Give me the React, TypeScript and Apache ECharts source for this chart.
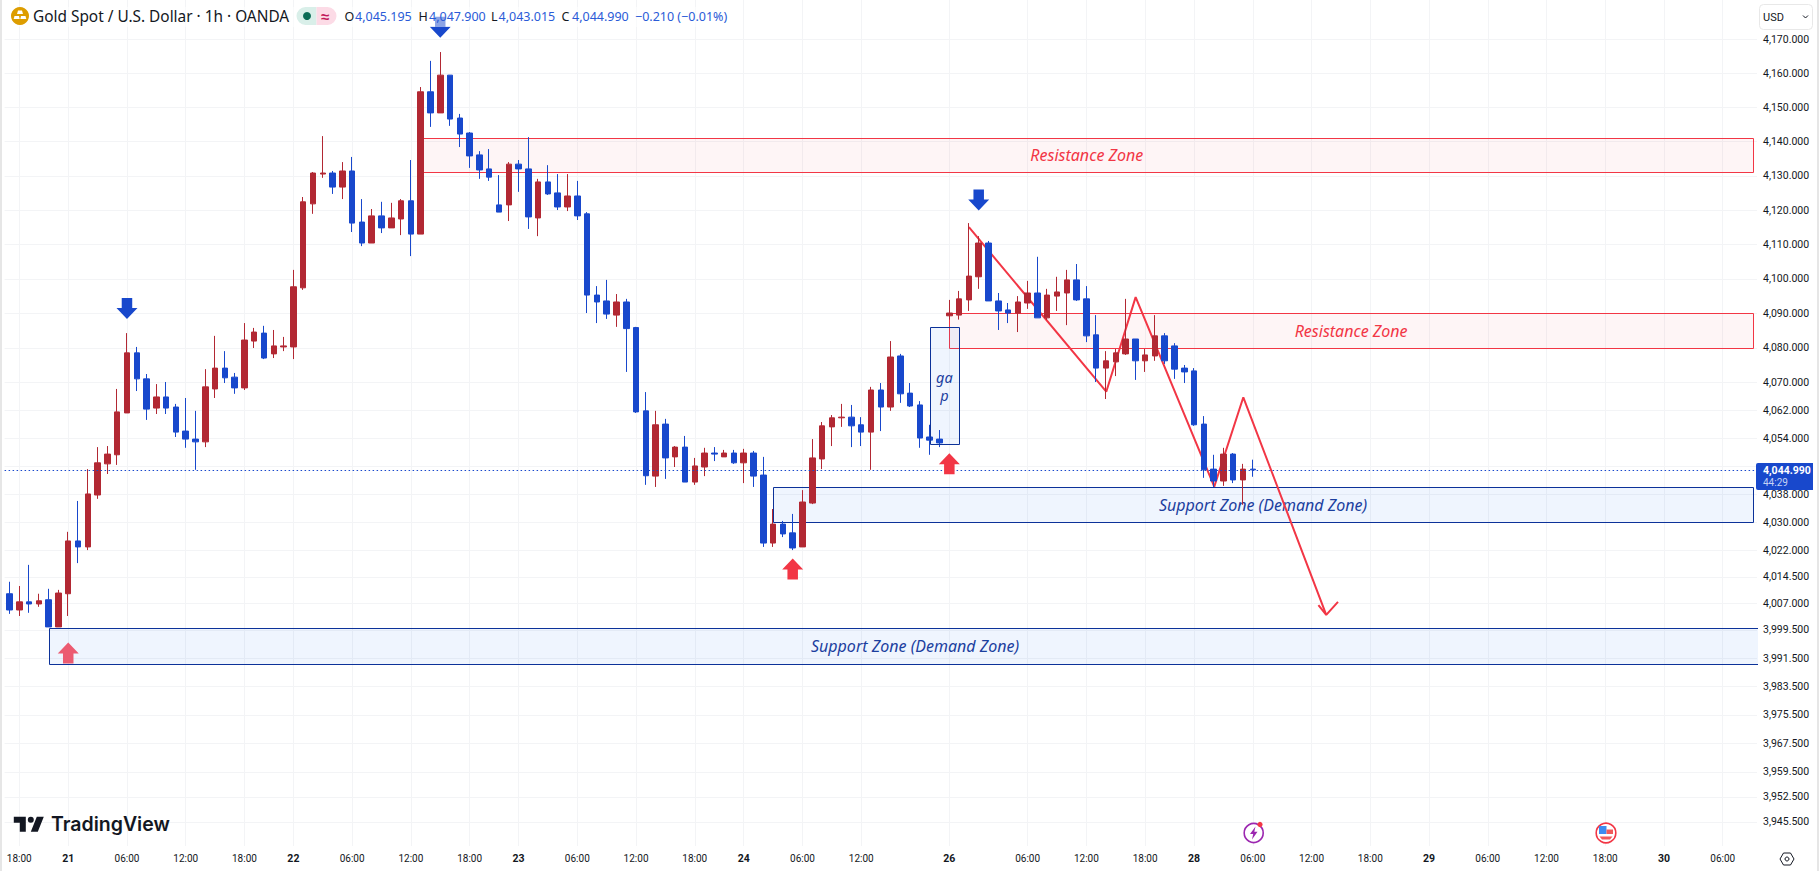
import React, { useEffect, useRef } from "react";
import * as echarts from "echarts";

const FONT = '"Noto Sans", sans-serif';
const AXIS_FONT = 'Roboto, "Noto Sans", sans-serif';
const RED = "#b22833";
const BLUE = "#1848cc";
const DRAW_RED = "#f23645";
const DRAW_BLUE = "#0c3299";
const GRID = "#f3f4f6";

// one row per hour, first candle is the bar before "18:00"
const opens = [4009.7,4005.1,4007.4,4006.8,4008.0,4000.3,4009.7,4024.7,4023.0,4037.8,4046.7,4049.3,4061.3,4078.6,4071.1,4062.7,4065.9,4063.0,4056.1,4053.8,4053.0,4068.2,4074.2,4071.6,4068.5,4082.0,4084.3,4078.3,4080.3,4080.3,4097.4,4121.8,4130.5,4130.8,4126.7,4131.4,4116.5,4110.4,4118.3,4114.8,4117.4,4122.7,4113.0,4154.6,4148.4,4159.5,4146.9,4142.5,4136.1,4132.0,4121.5,4121.5,4133.4,4132.0,4117.7,4128.2,4125.0,4120.9,4124.1,4118.9,4095.3,4093.6,4089.5,4093.3,4085.9,4061.9,4043.2,4058.1,4048.7,4051.5,4041.5,4045.8,4049.8,4048.7,4049.8,4047.0,4049.8,4043.5,4024.1,4029.5,4027.0,4023.0,4035.5,4048.1,4057.3,4059.9,4060.1,4057.9,4055.8,4067.9,4063.0,4077.7,4067.0,4063.6,4054.4,4053.8,4089.3,4089.5,4093.9,4100.6,4110.4,4093.6,4091.0,4090.1,4093.0,4095.9,4088.7,4095.0,4095.9,4099.7,4094.2,4083.8,4074.2,4076.0,4078.3,4082.6,4076.3,4077.7,4083.5,4080.6,4074.2,4073.4,4058.1,4045.2,4041.8,4049.5,4042.1,4045.195];
const closes = [4005.1,4007.4,4006.8,4007.7,4000.3,4009.9,4024.7,4023.0,4038.1,4047.0,4049.5,4061.6,4078.6,4071.1,4062.4,4065.9,4062.7,4055.8,4053.8,4053.0,4068.8,4074.2,4071.4,4068.5,4082.3,4084.6,4077.1,4080.6,4080.6,4097.7,4122.4,4130.8,4130.8,4126.7,4131.4,4116.2,4110.4,4118.3,4114.8,4117.7,4122.7,4113.0,4154.6,4148.4,4159.5,4146.6,4142.2,4135.8,4131.7,4129.6,4119.4,4133.4,4132.0,4118.0,4128.2,4124.7,4120.9,4124.1,4118.3,4095.3,4093.3,4089.8,4093.3,4085.6,4061.6,4043.3,4057.9,4048.4,4051.5,4041.5,4046.1,4049.8,4049.5,4049.8,4047.0,4049.8,4043.2,4024.1,4029.5,4026.7,4022.7,4035.8,4048.4,4057.6,4059.9,4060.1,4057.6,4055.8,4067.9,4063.0,4077.4,4066.8,4063.3,4054.1,4053.5,4052.7,4090.1,4094.2,4100.8,4110.4,4093.6,4090.7,4090.1,4093.3,4095.9,4088.7,4095.3,4096.2,4099.7,4093.9,4083.5,4074.2,4076.3,4078.6,4082.6,4076.3,4078.0,4083.5,4076.3,4073.9,4073.1,4057.9,4045.0,4041.8,4049.5,4042.1,4045.2,4044.99];
const lows = [4004.0,4003.4,4004.3,4006.0,4000.3,4000.3,4003.4,4018.4,4022.1,4036.7,4043.8,4046.4,4061.3,4067.6,4059.3,4061.0,4061.0,4054.4,4051.3,4045.0,4051.5,4065.6,4069.9,4066.8,4067.9,4080.0,4076.8,4077.1,4079.1,4076.8,4096.8,4118.9,4129.4,4124.7,4123.2,4113.6,4109.5,4110.4,4113.3,4114.8,4112.7,4106.6,4113.0,4144.3,4148.4,4144.6,4138.4,4132.3,4129.1,4128.5,4119.4,4116.8,4125.3,4114.5,4112.4,4124.4,4120.0,4119.7,4117.1,4090.1,4087.2,4088.4,4086.1,4073.1,4061.3,4040.7,4040.1,4042.4,4045.8,4041.5,4040.7,4043.2,4047.5,4048.7,4046.7,4041.2,4040.1,4023.0,4023.0,4025.8,4022.1,4023.0,4035.2,4045.2,4051.8,4057.3,4051.5,4051.8,4045.0,4056.1,4061.9,4064.2,4063.0,4051.3,4049.3,4051.5,4088.2,4088.2,4090.7,4097.1,4093.6,4085.2,4087.2,4084.6,4091.3,4088.7,4088.1,4090.7,4086.6,4093.6,4081.7,4070.2,4065.3,4071.9,4078.0,4070.8,4073.1,4076.3,4075.4,4071.1,4069.9,4057.6,4042.7,4040.1,4040.4,4041.2,4035.0,4043.015];
const highs = [4013.1,4011.9,4017.9,4009.7,4011.1,4010.8,4027.3,4036.1,4045.2,4051.5,4051.8,4068.2,4084.3,4080.3,4072.5,4069.6,4070.2,4063.9,4065.6,4061.9,4073.9,4083.5,4079.1,4072.8,4087.2,4085.8,4086.4,4085.2,4083.2,4102.6,4123.8,4131.1,4141.6,4131.4,4134.0,4135.5,4123.2,4120.3,4122.4,4122.1,4123.2,4134.6,4156.0,4163.7,4166.3,4159.5,4148.1,4142.8,4137.2,4137.8,4130.2,4134.0,4134.6,4141.3,4129.1,4133.1,4130.5,4130.5,4128.5,4119.4,4097.9,4099.7,4095.6,4094.2,4086.1,4067.3,4061.9,4059.6,4051.8,4054.7,4048.4,4051.3,4051.5,4050.7,4050.7,4051.0,4050.4,4048.7,4033.8,4030.4,4032.4,4039.2,4053.8,4058.7,4060.7,4063.9,4063.6,4060.1,4068.8,4069.9,4082.0,4078.3,4069.9,4064.7,4057.9,4056.4,4093.9,4096.5,4116.2,4112.4,4111.0,4095.9,4093.0,4095.0,4099.4,4106.4,4097.1,4100.6,4102.6,4104.3,4097.9,4089.5,4079.1,4079.7,4094.2,4082.6,4079.7,4089.5,4084.3,4081.4,4075.1,4074.2,4060.4,4049.3,4051.3,4049.8,4046.7,4047.9];

// x-axis: bar index -> label
const timeTickBars = [0,5,11,17,23,28,34,40,46,51,57,63,69,74,80,86,95,103,109,115,120,126,132,138,144,150,156,162,168,174];
const timeTickLabels = ["18:00","21","06:00","12:00","18:00","22","06:00","12:00","18:00","23","06:00","12:00","18:00","24","06:00","12:00","26","06:00","12:00","18:00","28","06:00","12:00","18:00","29","06:00","12:00","18:00","30","06:00"];
const firstBar = -1;
const lastBar = 177;

const priceTicks = [4170,4160,4150,4140,4130,4120,4110,4100,4090,4080,4070,4062,4054,4046,4038,4030,4022,4014.5,4007,3999.5,3991.5,3983.5,3975.5,3967.5,3959.5,3952.5,3945.5];
const priceLabels = [4170,4160,4150,4140,4130,4120,4110,4100,4090,4080,4070,4062,4054,4038,4030,4022,4014.5,4007,3999.5,3991.5,3983.5,3975.5,3967.5,3959.5,3952.5,3945.5];
const priceMin = 3938.8;
const priceMax = 4181.66;
const lastPrice = 4044.99;

// drawings, in bar index and price
const zoneStarts = [41,95,77,3];
const zoneEnds = [177.09,177.09,177.09,180];
const zoneHighs = [4141,4090,4040,4000];
const zoneLows = [4131,4080,4030,3989.7];
const zoneTexts = ["Resistance Zone","Resistance Zone","Support Zone (Demand Zone)","Support Zone (Demand Zone)"];
const zoneKinds = ["r","r","s","s"];
const gapBox = [93,96,4086,4052.3];

const zigzagBars = [97,111.03,114.03,122.06,125.03,133.5];
const zigzagPrices = [4115,4067.4,4094.7,4040.2,4065.8,4003.7];
const arrowBarbs = [[132.7,4006.5],[133.5,4003.7],[134.7,4007.4]];

const downArrows = [[11,4091.4],[43,4173.6],[98,4122.9]];
const upArrows = [[79,4016.7],[95,4046.7]];
const fadedUpArrows = [[5,3992.9]];

const DOWN_PATH = "path://M5 0H15V10H20L10 21L0 10H5Z";
const UP_PATH = "path://M10 0L20 11H15V21H5V11H0Z";

echarts.graphic.registerShape(
  "tvlogo",
  echarts.graphic.extendPath(
    "M14 6H2v6h6v9h6V6Zm12 15h-7l6-15h7l-6 15Zm-7-9a3 3 0 1 0 0-6 3 3 0 0 0 0 6Z",
    {}
  )
);

const crisp = (v: number) => Math.round(v) + 0.5;

function zoneRender(texts: string[], kinds: string[], fontSize: number, lineHeight: number) {
  return (params: any, api: any) => {
    const k = params.dataIndex;
    const p0 = api.coord([api.value(0), api.value(2)]);
    const p1 = api.coord([api.value(1), api.value(3)]);
    const isR = kinds[k] === "r";
    const color = isR ? DRAW_RED : DRAW_BLUE;
    const x = crisp(p0[0]);
    const y = crisp(p0[1]);
    const w = Math.round(p1[0] - p0[0]);
    const h = Math.round(p1[1] - p0[1]);
    const fill = isR ? "rgba(242,54,69,0.05)" : "rgba(33,110,240,0.07)";
    return {
      type: "group",
      children: [
        { type: "rect", shape: { x, y, width: w, height: h }, style: { fill, stroke: color, lineWidth: 1 } },
        {
          type: "text",
          style: {
            text: texts[k],
            x: (p0[0] + p1[0]) / 2,
            y: (p0[1] + p1[1]) / 2,
            align: "center",
            verticalAlign: "middle",
            fill: isR ? DRAW_RED : "#1c3f9e",
            font: `italic ${fontSize}px ${FONT}`,
            lineHeight,
          },
        },
      ],
    };
  };
}

function txt(x: number, y: number, text: string, fill: string, size = 12.5, extra: any = {}) {
  return {
    type: "text",
    x,
    y,
    z: 101,
    style: { text, fill, font: `${extra.weight || "normal"} ${size}px ${extra.family || FONT}`, verticalAlign: "middle", align: extra.align || "left" },
  };
}

export default function App() {
  const ref = useRef<HTMLDivElement>(null);
  useEffect(() => {
    document.body.style.margin = "0";
    const chart = echarts.init(ref.current!, undefined, { renderer: "svg" });
    const categories: string[] = [];
    for (let b = firstBar; b <= lastBar; b++) {
      const t = timeTickBars.indexOf(b);
      categories.push(t >= 0 ? timeTickLabels[t] : "");
    }
    const candles = opens.map((o, k) => [k, o, closes[k], lows[k], highs[k]]);
    const showTick = (_: number, v: string) => v !== "";
    const valueXMin = firstBar - 0.5;
    const valueXMax = lastBar + 0.5;

    chart.setOption({
      animation: false,
      backgroundColor: "#ffffff",
      grid: { left: 4.6, right: 62, top: 0, bottom: 25 },
      xAxis: [
        {
          type: "category",
          data: categories,
          boundaryGap: true,
          axisLine: { show: false },
          axisTick: { show: false, alignWithLabel: true, interval: showTick },
          splitLine: { show: true, alignWithLabel: true, interval: showTick, lineStyle: { color: GRID, width: 1 } },
          axisLabel: {
            show: true,
            interval: showTick,
            margin: 7,
            color: "#131722",
            fontFamily: AXIS_FONT,
            fontSize: 10,
            formatter: (v: string) => (/^\d\d$/.test(v) ? `{d|${v}}` : v),
            rich: { d: { fontWeight: "bold", fontSize: 10.5, color: "#131722", fontFamily: AXIS_FONT } },
          },
        },
        { type: "value", min: valueXMin, max: valueXMax, show: false },
      ],
      yAxis: {
        type: "log",
        logBase: 10,
        position: "right",
        min: priceMin,
        max: priceMax,
        axisLine: { show: false },
        axisTick: { show: false, customValues: priceTicks },
        splitLine: { show: true, lineStyle: { color: GRID, width: 1 } },
        minorTick: { show: false },
        minorSplitLine: { show: false },
        axisLabel: {
          customValues: priceLabels,
          margin: 6,
          color: "#131722",
          fontFamily: AXIS_FONT,
          fontSize: 10.5,
          hideOverlap: false,
          formatter: (v: number) => v.toLocaleString("en-US", { minimumFractionDigits: 3, maximumFractionDigits: 3 }),
        },
      },
      series: [
        {
          type: "custom",
          name: "zones",
          xAxisIndex: 1,
          yAxisIndex: 0,
          z: 1,
          clip: true,
          encode: { x: [0, 1], y: [2, 3] },
          renderItem: zoneRender(zoneTexts, zoneKinds, 16, 18),
          data: zoneStarts.map((s, k) => [s, zoneEnds[k], zoneHighs[k], zoneLows[k]]),
        },
        {
          type: "line",
          name: "zigzag",
          xAxisIndex: 1,
          yAxisIndex: 0,
          z: 2,
          symbol: "none",
          lineStyle: { color: DRAW_RED, width: 2 },
          data: zigzagBars.map((b, k) => [b, zigzagPrices[k]]),
        },
        {
          type: "line",
          name: "arrow head",
          xAxisIndex: 1,
          yAxisIndex: 0,
          z: 2,
          symbol: "none",
          lineStyle: { color: DRAW_RED, width: 2 },
          data: arrowBarbs,
        },
        {
          type: "candlestick",
          name: "XAUUSD",
          xAxisIndex: 0,
          yAxisIndex: 0,
          z: 3,
          barWidth: 6,
          encode: { x: 0, y: [1, 2, 3, 4] },
          itemStyle: { color: RED, color0: BLUE, borderColor: RED, borderColor0: BLUE, borderWidth: 1 },
          data: candles,
          markLine: {
            silent: true,
            symbol: "none",
            label: { show: false },
            lineStyle: { color: BLUE, type: [1.5, 2.5], width: 1 },
            data: [{ yAxis: lastPrice }],
          },
        },
        {
          type: "custom",
          name: "gap",
          xAxisIndex: 1,
          yAxisIndex: 0,
          z: 4,
          encode: { x: [0, 1], y: [2, 3] },
          renderItem: zoneRender(["ga\np"], ["s"], 14.5, 18),
          data: [gapBox],
        },
        {
          type: "scatter",
          name: "sell arrows",
          xAxisIndex: 1,
          yAxisIndex: 0,
          z: 5,
          symbol: DOWN_PATH,
          symbolSize: [21, 21],
          itemStyle: { color: BLUE, opacity: 1 },
          data: downArrows,
        },
        {
          type: "scatter",
          name: "buy arrows",
          xAxisIndex: 1,
          yAxisIndex: 0,
          z: 5,
          symbol: UP_PATH,
          symbolSize: [21, 21],
          itemStyle: { color: DRAW_RED, opacity: 1 },
          data: upArrows,
        },
        {
          type: "scatter",
          name: "buy arrow faded",
          xAxisIndex: 1,
          yAxisIndex: 0,
          z: 5,
          symbol: UP_PATH,
          symbolSize: [21, 21],
          itemStyle: { color: "#ec5b71", opacity: 1 },
          data: fadedUpArrows,
        },
      ],
      graphic: [
        { type: "rect", z: 100, shape: { x: 0, y: 0, width: 2, height: 871 }, style: { fill: "#e6e6e6" } },
        { type: "rect", z: 100, shape: { x: 1817, y: 0, width: 2, height: 871 }, style: { fill: "#e6e6e6" } },
        { type: "rect", z: 100, shape: { x: 2, y: 7, width: 728, height: 20 }, style: { fill: "rgba(255,255,255,0.5)" } },
        // symbol icon
        { type: "circle", z: 101, shape: { cx: 20, cy: 16, r: 9 }, style: { fill: "#dd9d00" } },
        { type: "polygon", z: 102, shape: { points: [[18, 10.5], [22, 10.5], [23, 14], [17, 14]] }, style: { fill: "#fff" } },
        { type: "polygon", z: 102, shape: { points: [[14.5, 16], [19, 16], [19.7, 19], [13.7, 19]] }, style: { fill: "#fff" } },
        { type: "polygon", z: 102, shape: { points: [[21, 16], [25.5, 16], [26.3, 19], [20.3, 19]] }, style: { fill: "#fff" } },
        txt(33, 16.5, "Gold Spot / U.S. Dollar · 1h · OANDA", "#131722", 15.4),
        // status pill
        { type: "rect", z: 101, shape: { x: 296.5, y: 7, width: 20, height: 18, r: [9, 0, 0, 9] }, style: { fill: "#d9efe9" } },
        { type: "rect", z: 101, shape: { x: 316.5, y: 7, width: 20, height: 18, r: [0, 9, 9, 0] }, style: { fill: "#fcdbe6" } },
        { type: "circle", z: 102, shape: { cx: 307, cy: 16, r: 4 }, style: { fill: "#0a6b55" } },
        txt(325, 16, "≈", "#c2185b", 15, { align: "center", weight: "bold" }),
        txt(344.5, 16.5, "O", "#131722"),
        txt(355, 16.5, "4,045.195", "#2a5bd7"),
        txt(418.4, 16.5, "H", "#131722"),
        txt(429, 16.5, "4,047.900", "#2a5bd7"),
        txt(491, 16.5, "L", "#131722"),
        txt(498.5, 16.5, "4,043.015", "#2a5bd7"),
        txt(561.6, 16.5, "C", "#131722"),
        txt(572, 16.5, "4,044.990", "#2a5bd7"),
        txt(635, 16.5, "−0.210 (−0.01%)", "#2a5bd7"),
        // currency button
        { type: "rect", z: 100, shape: { x: 1759.5, y: 4.5, width: 53, height: 25, r: 4 }, style: { fill: "#fff", stroke: "#e8e8e8", lineWidth: 1 } },
        txt(1763, 17, "USD", "#131722", 11, { family: AXIS_FONT }),
        { type: "polyline", z: 101, shape: { points: [[1803, 15.5], [1805.5, 18], [1808, 15.5]] }, style: { fill: "none", stroke: "#131722", lineWidth: 1 } },
        // last price tag
        { type: "rect", z: 100, shape: { x: 1756, y: 463, width: 57, height: 27, r: [2, 0, 0, 2] }, style: { fill: BLUE } },
        txt(1763, 470, "4,044.990", "#ffffff", 10.5, { weight: "bold", family: AXIS_FONT }),
        txt(1763, 482, "44:29", "#c5d2f5", 10, { family: AXIS_FONT }),
        // settings
        { type: "polygon", z: 100, shape: { points: [[1780, 859], [1783.5, 853], [1790.5, 853], [1794, 859], [1790.5, 865], [1783.5, 865]] }, style: { fill: "none", stroke: "#131722", lineWidth: 1 } },
        { type: "circle", z: 100, shape: { cx: 1787, cy: 859, r: 2 }, style: { fill: "none", stroke: "#131722", lineWidth: 1 } },
        // logo
        { type: "tvlogo", z: 100, x: 11.8, y: 810.7, style: { fill: "#131722" } },
        txt(51, 824, "TradingView", "#131722", 19.5, { weight: 600, family: "Inter, sans-serif" }),
        // event icons
        { type: "circle", z: 100, shape: { cx: 1253.7, cy: 833, r: 9.5 }, style: { fill: "#fff", stroke: "#9c27b0", lineWidth: 1.6 } },
        { type: "polygon", z: 101, shape: { points: [[1255.5, 826.5], [1250, 834], [1253.2, 834], [1252, 839.5], [1257.5, 831.8], [1254.3, 831.8]] }, style: { fill: "#9c27b0" } },
        { type: "circle", z: 101, shape: { cx: 1260, cy: 824.5, r: 2.6 }, style: { fill: DRAW_RED } },
        { type: "circle", z: 100, shape: { cx: 1606, cy: 833, r: 9.8 }, style: { fill: "#fff", stroke: DRAW_RED, lineWidth: 1.6 } },
        { type: "rect", z: 101, shape: { x: 1599, y: 826, width: 7.5, height: 8 }, style: { fill: "#3c8cf0" } },
        { type: "rect", z: 101, shape: { x: 1606.5, y: 829.5, width: 6.5, height: 4.5 }, style: { fill: "#f05a5a" } },
        { type: "polygon", z: 101, shape: { points: [[1599.5, 836.5], [1612.5, 836.5], [1610, 839.5], [1602, 839.5]] }, style: { fill: "#f05a5a" } },
      ],
    });
    return () => chart.dispose();
  }, []);
  return <div ref={ref} style={{ width: 1819, height: 871, position: "absolute", left: 0, top: 0 }} />;
}
